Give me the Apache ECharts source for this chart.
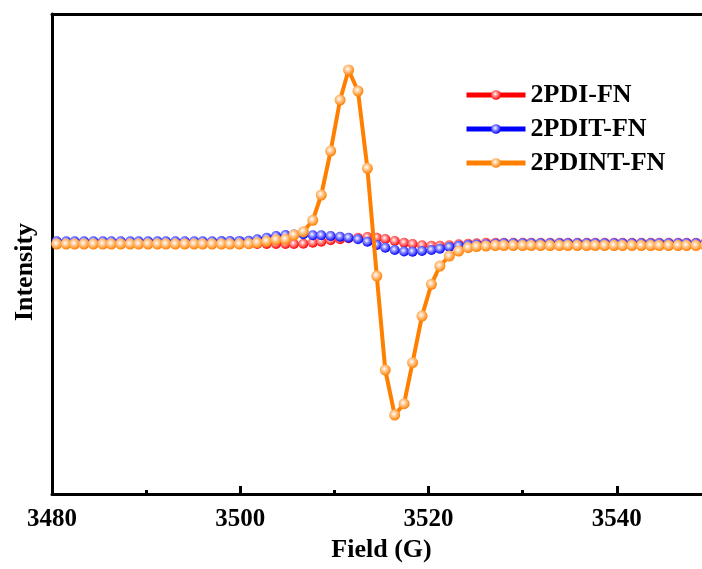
<!DOCTYPE html>
<html>
<head>
<meta charset="utf-8">
<script src="https://cdn.jsdelivr.net/npm/echarts@6/dist/echarts.min.js"></script>
<style>
html,body{margin:0;padding:0;background:#fff;overflow:hidden;width:702px;height:569px;}
#chart{width:711px;height:569px;}
</style>
</head>
<body>
<div id="chart"></div>
<script>
// Magnetic field (G) of each sample point
var fields = [3480.5,3481.5,3482.4,3483.4,3484.4,3485.4,3486.3,3487.3,3488.3,3489.2,
  3490.2,3491.2,3492.1,3493.1,3494.1,3495.1,3496.0,3497.0,3498.0,3498.9,
  3499.9,3500.9,3501.8,3502.8,3503.8,3504.8,3505.7,3506.7,3507.7,3508.6,
  3509.6,3510.6,3511.5,3512.5,3513.5,3514.5,3515.4,3516.4,3517.4,3518.3,
  3519.3,3520.3,3521.2,3522.2,3523.2,3524.2,3525.1,3526.1,3527.1,3528.0,
  3529.0,3530.0,3530.9,3531.9,3532.9,3533.9,3534.8,3535.8,3536.8,3537.7,
  3538.7,3539.7,3540.6,3541.6,3542.6,3543.6,3544.5,3545.5,3546.5,3547.4,
  3548.4,3549.4,3550.3];

// Intensity (arbitrary units)
var pdiFN = [0,0,0,0,0,0,0,0,0,0,
  0,0,0,0,0,0,0,0,0,0,
  0,0,0,0,0,0,0,3,13,23,
  37,47,57,63,70,63,50,30,13,0,
  -12,-17,-17,-12,-3,3,8,12,12,12,
  12,12,12,12,12,12,12,12,12,12,
  12,12,12,12,12,12,12,12,12,12,
  12,12,12];

var pditFN = [28,28,28,28,28,28,28,28,28,28,
  28,28,28,28,28,28,28,28,29,30,
  31,33,47,63,80,90,95,97,87,87,
  80,73,63,47,23,-10,-37,-60,-75,-77,
  -70,-60,-47,-30,-18,-10,-5,-2,3,8,
  8,8,8,8,8,8,8,8,8,8,
  8,8,8,8,8,8,8,8,8,8,
  8,8,8];

var pdintFN = [0,0,0,0,0,0,0,0,0,0,
  0,0,0,0,0,0,0,0,0,0,
  0,3,13,27,43,47,90,123,237,490,
  930,1440,1740,1530,757,-320,-1260,-1710,-1597,-1187,
  -720,-403,-220,-120,-70,-37,-25,-20,-15,-15,
  -15,-15,-15,-15,-15,-15,-15,-15,-15,-15,
  -15,-15,-15,-15,-15,-15,-15,-15,-15,-15,
  -15,-15,-15];

var seriesNames = ['2PDI-FN','2PDIT-FN','2PDINT-FN'];
var seriesColors = ['#ff0000','#0000ff','#ff8000'];
var seriesLight = ['#ff9a9a','#9a9aff','#ffd0a0'];
var seriesData = [pdiFN, pditFN, pdintFN];
var xRange = {min:3480, max:3550, interval:20};
var yRange = {min:-2500, max:2300};

var FONT = "'Liberation Serif','Times New Roman',serif";

function ball(i){
  return {type:'radial', x:0.42, y:0.4, r:0.6, colorStops:[
    {offset:0, color:'#ffffff'},
    {offset:0.35, color:seriesLight[i]},
    {offset:1, color:seriesColors[i]}
  ]};
}

var series = seriesNames.map(function(name, i){
  return {
    name: name,
    type: 'line',
    xAxisIndex: 0,
    data: fields.map(function(f, k){ return [f, seriesData[i][k]]; }),
    symbol: 'circle',
    symbolSize: i === 2 ? 11 : 10,
    showSymbol: true,
    lineStyle: {color: seriesColors[i], width: i === 2 ? 4 : 3},
    itemStyle: {color: ball(i), borderWidth: 0},
    emphasis: {disabled: true},
    z: 2 + i
  };
});

var chart = echarts.init(document.getElementById('chart'), null, {renderer:'canvas'});
chart.setOption({
  animation: false,
  backgroundColor: '#ffffff',
  grid: {left: 52, top: 14, right: 0, bottom: 75, show: false},
  legend: {
    orient: 'vertical',
    left: 459, top: 77,
    itemWidth: 59, itemHeight: 12, itemGap: 8,
    data: seriesNames,
    lineStyle: {width: 5},
    textStyle: {fontFamily: FONT, fontWeight: 'bold', fontSize: 26, color: '#000'}
  },
  xAxis: [{
    type: 'value',
    min: xRange.min, max: xRange.max, interval: xRange.interval,
    name: 'Field (G)',
    nameLocation: 'middle',
    nameGap: 40,
    nameTextStyle: {fontFamily: FONT, fontWeight: 'bold', fontSize: 26, color: '#000'},
    axisLine: {show: true, onZero: false, lineStyle: {color: '#000', width: 3}},
    axisTick: {show: true, inside: true, length: 8, lineStyle: {color: '#000', width: 3}},
    minorTick: {show: true, splitNumber: 2, length: 4, lineStyle: {color: '#000', width: 3}},
    axisLabel: {fontFamily: FONT, fontWeight: 'bold', fontSize: 25, color: '#000', margin: 13,
      showMaxLabel: false, formatter: function(v){ return String(v); }},
    splitLine: {show: false}
  }, {
    type: 'value', position: 'top',
    min: xRange.min, max: xRange.max,
    axisLine: {show: true, onZero: false, lineStyle: {color: '#000', width: 3}},
    axisTick: {show: false}, axisLabel: {show: false}, splitLine: {show: false}
  }],
  yAxis: {
    type: 'value',
    min: yRange.min, max: yRange.max,
    name: 'Intensity',
    nameLocation: 'middle',
    nameGap: 14,
    nameTextStyle: {fontFamily: FONT, fontWeight: 'bold', fontSize: 26, color: '#000', padding: [0, 36, 0, 0]},
    axisLine: {show: true, onZero: false, lineStyle: {color: '#000', width: 3}},
    axisTick: {show: false},
    axisLabel: {show: false},
    splitLine: {show: false}
  },
  series: series
});
</script>
</body>
</html>
